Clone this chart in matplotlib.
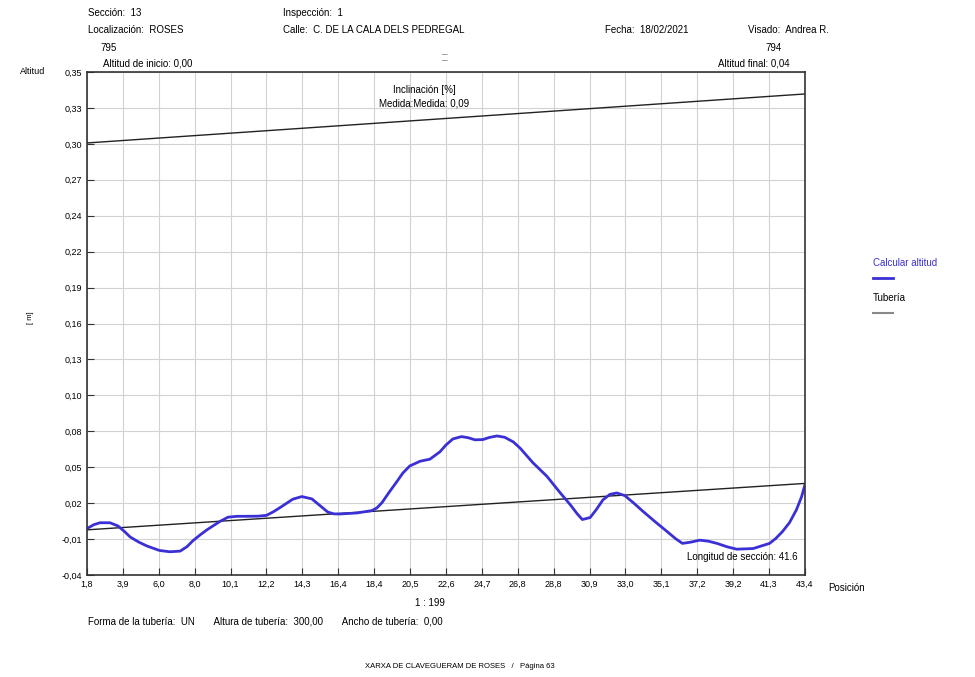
import matplotlib.pyplot as plt
import numpy as np

plt.rcParams["font.family"] = ["Liberation Sans", "DejaVu Sans"]

# measured altitude profile (position, altitude)
pos = [1.8, 2.2, 2.55, 3.13, 3.6, 3.95, 4.3, 4.8, 5.27, 6.0, 6.6, 7.2, 7.6,
       7.94, 8.35, 8.75, 9.5, 9.97, 10.5, 11.07, 11.7, 12.2, 12.6, 12.98,
       13.73, 14.25, 14.83, 15.3, 15.75, 16.1, 16.46, 17.44, 18.3, 18.6, 18.9,
       19.3, 19.76, 20.1, 20.5, 21.1, 21.67, 22.25, 22.6, 23.0, 23.5, 23.9,
       24.28, 24.74, 25.1, 25.55, 26.0, 26.5, 26.9, 27.64, 28.45, 29.2, 29.8,
       30.2, 30.5, 30.95, 31.3, 31.7, 32.1, 32.5, 32.97, 33.5, 34.0, 34.7, 35.4,
       35.9, 36.3, 36.8, 37.3, 37.8, 38.3, 38.9, 39.45, 40.4, 41.35, 41.7,
       42.1, 42.5, 42.9, 43.2, 43.4]
alt = [-0.004, -0.001, 0.0005, 0.0005, -0.002, -0.006, -0.0105, -0.0145,
       -0.0175, -0.021, -0.022, -0.0215, -0.018, -0.0134, -0.009, -0.005,
       0.0015, 0.0048, 0.0055, 0.0055, 0.0056, 0.0062, 0.009, 0.0122, 0.0188,
       0.0208, 0.019, 0.0138, 0.0088, 0.0074, 0.0073, 0.0081, 0.0099, 0.012,
       0.0162, 0.024, 0.0325, 0.039, 0.0445, 0.0482, 0.0498, 0.0555, 0.0608,
       0.0655, 0.0673, 0.0664, 0.0648, 0.065, 0.0666, 0.0678, 0.0668, 0.0632,
       0.0583, 0.047, 0.0365, 0.024, 0.0145, 0.0075, 0.003, 0.0045, 0.0105,
       0.0183, 0.0225, 0.0236, 0.0215, 0.0155, 0.0095, 0.0015, -0.0062,
       -0.0118, -0.0155, -0.0145, -0.013, -0.0138, -0.0155, -0.0182, -0.02,
       -0.0195, -0.0155, -0.0118, -0.0063, 0.0005, 0.0104, 0.0205, 0.030]

# pipe lines (start, end)
pipe_x = [1.8, 43.4]
pipe_low = [-0.005, 0.031]
pipe_top = [0.295, 0.333]

xtick_labels = ["1,8", "3,9", "6,0", "8,0", "10,1", "12,2", "14,3", "16,4",
                "18,4", "20,5", "22,6", "24,7", "26,8", "28,8", "30,9", "33,0",
                "35,1", "37,2", "39,2", "41,3", "43,4"]
ytick_labels = ["-0,04", "-0,01", "0,02", "0,05", "0,08", "0,10", "0,13",
                "0,16", "0,19", "0,22", "0,24", "0,27", "0,30", "0,33", "0,35"]

fig = plt.figure(figsize=(9.75, 6.77), dpi=100)
ax = fig.add_axes([0.0892, 0.1507, 0.7364, 0.7429])

ax.plot(pipe_x, pipe_top, color="#222222", lw=1)
ax.plot(pipe_x, pipe_low, color="#222222", lw=1)
ax.plot(pos, alt, color="#3a30d6", lw=2, solid_joinstyle="round", solid_capstyle="round")

ax.set_xlim(1.8, 43.4)
ax.set_ylim(-0.04, 0.35)
ax.set_xticks(np.linspace(1.8, 43.4, len(xtick_labels)))
ax.set_xticklabels(xtick_labels)
ax.set_yticks(np.linspace(-0.04, 0.35, len(ytick_labels)))
ax.set_yticklabels(ytick_labels)
ax.tick_params(direction="in", length=5, labelsize=6.5, color="#333333")
ax.grid(True, color="#d2d2d2", lw=0.8)
for s in ax.spines.values():
    s.set_linewidth(1.2)
    s.set_color("#333333")

fs = 7
# header
fig.text(88 / 975, 1 - 13 / 677, "Sección:  13", fontsize=fs, va="center")
fig.text(283 / 975, 1 - 13 / 677, "Inspección:  1", fontsize=fs, va="center")
fig.text(88 / 975, 1 - 30 / 677, "Localización:  ROSES", fontsize=fs, va="center")
fig.text(283 / 975, 1 - 30 / 677, "Calle:  C. DE LA CALA DELS PEDREGAL", fontsize=fs, va="center")
fig.text(605 / 975, 1 - 30 / 677, "Fecha:  18/02/2021", fontsize=fs, va="center")
fig.text(748 / 975, 1 - 30 / 677, "Visado:  Andrea R.", fontsize=fs, va="center")
fig.text(100 / 975, 1 - 48 / 677, "795", fontsize=fs, va="center")
fig.text(103 / 975, 1 - 63 / 677, "Altitud de inicio: 0,00", fontsize=fs, va="center")
fig.text(782 / 975, 1 - 48 / 677, "794", fontsize=fs, va="center", ha="right")
fig.text(790 / 975, 1 - 63 / 677, "Altitud final: 0,04", fontsize=fs, va="center", ha="right")
fig.text(445 / 975, 1 - 58 / 677, "—·\n—·", fontsize=3.5, va="center", ha="center")
fig.text(20 / 975, 1 - 72 / 677, "Altitud", fontsize=6.5, va="center")
fig.text(30 / 975, 1 - 318 / 677, "[ m]", fontsize=5.5, va="center", ha="center", rotation=90)

# inside the plot
ax.text(0.47, 0.975, "Inclinación [%]", transform=ax.transAxes, fontsize=fs, ha="center", va="top")
ax.text(0.47, 0.947, "Medida:Medida: 0,09", transform=ax.transAxes, fontsize=fs, ha="center", va="top")
ax.text(0.99, 0.035, "Longitud de sección: 41.6", transform=ax.transAxes, fontsize=fs, ha="right", va="center")

# below the plot
fig.text(828 / 975, 1 - 588 / 677, "Posición", fontsize=fs, va="center")
fig.text(430 / 975, 1 - 603 / 677, "1 : 199", fontsize=fs, va="center", ha="center")
fig.text(88 / 975, 1 - 621 / 677,
         "Forma de la tubería:  UN       Altura de tubería:  300,00       Ancho de tubería:  0,00",
         fontsize=fs, va="center")
fig.text(460 / 975, 1 - 667 / 677, "XARXA DE CLAVEGUERAM DE ROSES   /   Página 63",
         fontsize=5.5, va="center", ha="center")

# legend
fig.text(873 / 975, 1 - 263 / 677, "Calcular altitud", fontsize=fs, va="center", color="#3a30d6")
fig.add_artist(plt.Line2D([873 / 975, 893 / 975], [1 - 278 / 677] * 2, color="#3a30d6", lw=2))
fig.text(873 / 975, 1 - 298 / 677, "Tubería", fontsize=fs, va="center")
fig.add_artist(plt.Line2D([873 / 975, 893 / 975], [1 - 313 / 677] * 2, color="#888888", lw=1.5))

plt.savefig("out.png", dpi=100)
